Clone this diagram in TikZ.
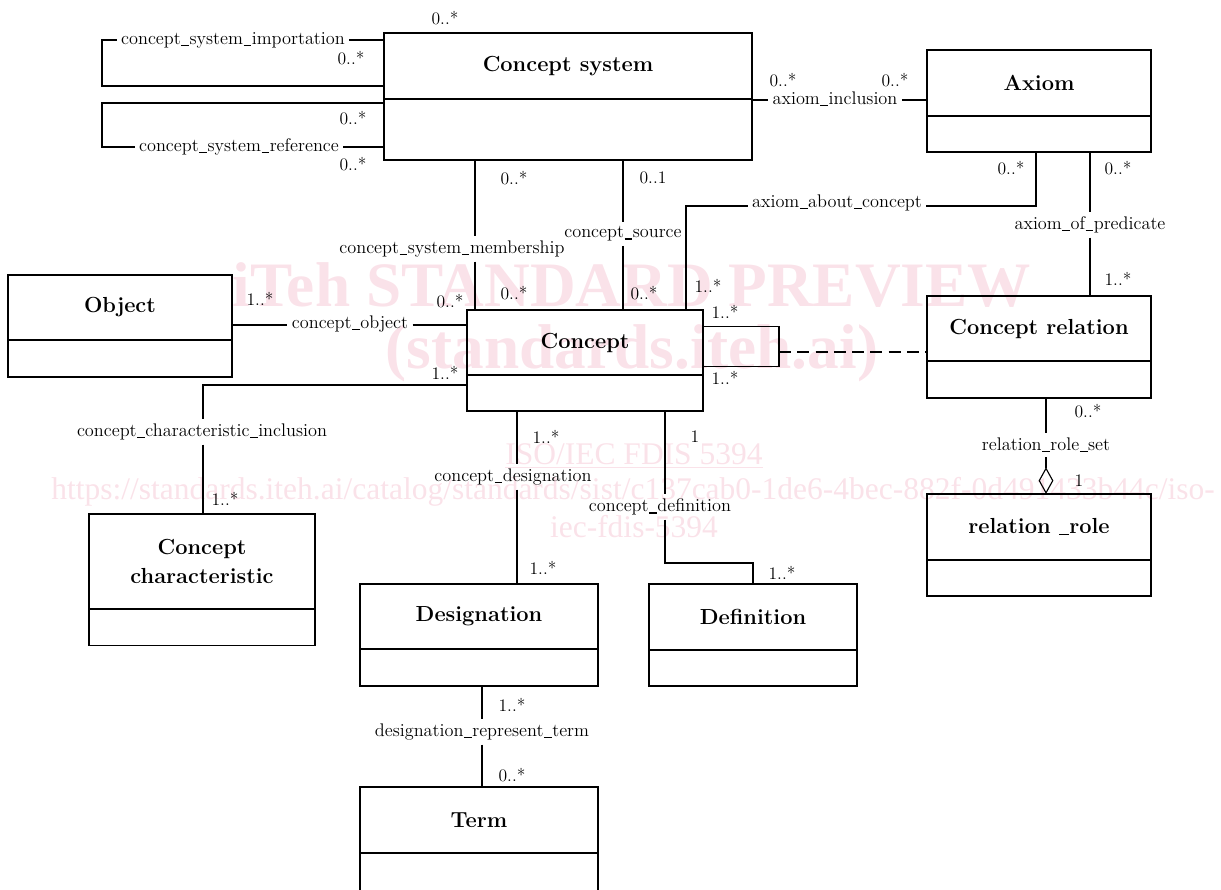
\documentclass[tikz,border=0pt]{standalone}
\usepackage{fontspec}
\usepackage{tikz}
\usetikzlibrary{calc}
\usetikzlibrary{positioning}
\usetikzlibrary{arrows.meta}
\newfontfamily\wmfont{Liberation Serif}
\definecolor{wmpink}{RGB}{250,226,233}
\newcommand{\usc}{\kern0.03em\rule[-1.3pt]{0.42em}{1pt}\kern0.03em}
\tikzstyle{assoc} = [line width=0.8pt]
\tikzstyle{aggr} = [line width=0.8pt, {Diamond[open,length=19pt,width=10.5pt]}-]

\begin{document}
\begin{tikzpicture}[x=0.025cm, y=-0.025cm,
    classnode/.style={rectangle, draw, line width=0.9pt, outer sep=0pt, minimum width=5.6cm, minimum height=1.63cm,
        align=center, font=\fontsize{15.5}{20.6}\selectfont\bfseries},
    attrnode/.style={rectangle, draw, line width=0.9pt, outer sep=0pt, minimum width=5.6cm, minimum height=0.92cm},
    rolename/.style={inner sep=3pt, font=\fontsize{13}{15}\selectfont},
    mult/.style={inner sep=0pt, font=\fontsize{12.5}{14}\selectfont},
    wmark/.style={text=wmpink, inner sep=0pt}
]
    \useasboundingbox (0,0) rectangle (1221,889);
    \clip (0,0) rectangle (1221,889);

    % watermark
    \node[wmark, font=\wmfont\fontsize{45}{50}\selectfont\bfseries] (wmA) at (632,285) {iTeh STANDARD PREVIEW};
    \node[wmark, font=\wmfont\fontsize{45}{50}\selectfont\bfseries] (wmB) at (632,353) {(standards.iteh.ai)};
    \node[wmark, font=\wmfont\fontsize{22.4}{26}\selectfont] (wmC) at (634,456) {\underline{ISO/IEC FDIS 5394}};
    \node[wmark, font=\wmfont\fontsize{22.4}{26}\selectfont] (wmD) at (633,492) {https://standards.iteh.ai/catalog/standards/sist/c137cab0-1de6-4bec-882f-0d491433b44c/iso-};
    \node[wmark, font=\wmfont\fontsize{22.4}{26}\selectfont] (wmE) at (634,527) {iec-fdis-5394};

    % classes
    \node[classnode, minimum width=9.2cm, minimum height=1.65cm] (csys) at (568,66) {Concept system};
    \node[attrnode, minimum width=9.2cm, minimum height=1.525cm, below=0pt of csys] (csysattr) {};
    \node[classnode, minimum height=1.65cm] (axiom) at (1039,83) {Axiom};
    \node[attrnode, minimum height=0.9cm, below=0pt of axiom] (axiomattr) {};
    \node[classnode] (object) at (120,307.5) {Object};
    \node[attrnode, below=0pt of object] (objectattr) {};
    \node[classnode, minimum width=5.9cm] (cpt) at (585,342.5) {Concept};
    \node[attrnode, minimum width=5.9cm, minimum height=0.9cm, below=0pt of cpt] (cptattr) {};
    \node[classnode] (crel) at (1039,328.5) {Concept relation};
    \node[attrnode, below=0pt of crel] (crelattr) {};
    \node[classnode, minimum height=1.65cm] (rrole) at (1039,527) {relation \usc role};
    \node[attrnode, minimum height=0.9cm, below=0pt of rrole] (rroleattr) {};
    \node[classnode, minimum width=5.65cm, minimum height=2.375cm] (cchar) at (202,561.5) {Concept\\characteristic};
    \node[attrnode, minimum width=5.65cm, below=0pt of cchar] (ccharattr) {};
    \node[classnode, minimum width=5.95cm] (desig) at (479,616.5) {Designation};
    \node[attrnode, minimum width=5.95cm, below=0pt of desig] (desigattr) {};
    \node[classnode, minimum width=5.2cm, minimum height=1.65cm] (defin) at (753,617) {Definition};
    \node[attrnode, minimum width=5.2cm, minimum height=0.9cm, below=0pt of defin] (definattr) {};
    \node[classnode, minimum width=5.95cm, minimum height=1.65cm] (term) at (479,820) {Term};
    \node[attrnode, minimum width=5.95cm, minimum height=1.3cm, below=0pt of term] (termattr) {};

    % association names
    \node[rolename] (lImp) at (233,40) {concept\usc system\usc importation};
    \node[rolename] (lRef) at (239,147) {concept\usc system\usc reference};
    \node[rolename] (lAxin) at (835,99) {axiom\usc inclusion};
    \node[rolename] (lAbout) at (837,203) {axiom\usc about\usc concept};
    \node[rolename] (lPred) at (1090,225) {axiom\usc of\usc predicate};
    \node[rolename] (lMemb) at (452,249) {concept\usc system\usc membership};
    \node[rolename] (lSrc) at (623,234) {concept\usc source};
    \node[rolename] (lObj) at (350,324) {concept\usc object};
    \node[rolename] (lCci) at (202,432) {concept\usc characteristic\usc inclusion};
    \node[rolename] (lDes) at (513,477) {concept\usc designation};
    \node[rolename] (lDef) at (660,507) {concept\usc definition};
    \node[rolename] (lRrs) at (1046,445) {relation\usc role\usc set};
    \node[rolename] (lDrt) at (482,732) {designation\usc represent\usc term};

    % tracks of the connectors
    \coordinate (impX) at (102,0);
    \coordinate (impA) at ($(csys.north west)+(0,7)$);
    \coordinate (impB) at ($(csys.west)+(0,20)$);
    \coordinate (refA) at ($(csysattr.north west)+(0,4)$);
    \coordinate (refB) at ($(csysattr.south west)+(0,-13)$);
    \coordinate (memb) at (475,0);
    \coordinate (csrc) at (623,0);
    \coordinate (aboutA) at (1036,0);
    \coordinate (aboutB) at (686,206);
    \coordinate (pred) at (1090,0);
    \coordinate (cobj) at (0,325);
    \coordinate (cci) at (203,385);
    \coordinate (cdes) at (517,0);
    \coordinate (cdefA) at (665,0);
    \coordinate (cdefB) at (753,563);
    \coordinate (drt) at (482,0);
    \coordinate (rrs) at (1046,0);
    \coordinate (axin) at ($(axiom.west)+(0,17)$);
    \coordinate (selfA) at ($(cpt.east)+(0,-16)$);
    \coordinate (selfB) at ($(cpt.east)+(0,24)$);

    % associations
    \draw[assoc] (impA) -- (lImp.east |- impA);
    \draw[assoc] (lImp.west |- impA) -- (impX |- impA) -- (impX |- impB) -- (impB);
    \draw[assoc] (refA) -- (impX |- refA) -- (impX |- refB) -- (lRef.west |- refB);
    \draw[assoc] (lRef.east |- refB) -- (refB);
    \draw[assoc] (csys.east |- axin) -- (lAxin.west |- axin);
    \draw[assoc] (lAxin.east |- axin) -- (axin);
    \draw[assoc] (csysattr.south -| memb) -- (lMemb.north -| memb);
    \draw[assoc] (lMemb.south -| memb) -- (cpt.north -| memb);
    \draw[assoc] (csysattr.south -| csrc) -- (lSrc.north -| csrc);
    \draw[assoc] (lSrc.south -| csrc) -- (cpt.north -| csrc);
    \draw[assoc] (axiomattr.south -| aboutA) |- (lAbout.east |- aboutB);
    \draw[assoc] (lAbout.west |- aboutB) -| (cpt.north -| aboutB);
    \draw[assoc] (axiomattr.south -| pred) -- (lPred.north -| pred);
    \draw[assoc] (lPred.south -| pred) -- (crel.north -| pred);
    \draw[assoc] (object.east |- cobj) -- (lObj.west |- cobj);
    \draw[assoc] (lObj.east |- cobj) -- (cpt.west |- cobj);
    \draw[assoc] (selfA) -- ++(76,0) coordinate (selfR) |- (selfB);
    \coordinate (dashL) at ($(selfR)+(0,25.5)$);
    \draw[assoc, dash pattern=on 8.5pt off 4.5pt] (dashL) -- (crel.west |- dashL);
    \draw[assoc] (cpt.west |- cci) -- (cci) -- (lCci.north -| cci);
    \draw[assoc] (lCci.south -| cci) -- (cchar.north -| cci);
    \draw[assoc] (cptattr.south -| cdes) -- (lDes.north -| cdes);
    \draw[assoc] (lDes.south -| cdes) -- (desig.north -| cdes);
    \draw[assoc] (cptattr.south -| cdefA) -- (lDef.north -| cdefA);
    \draw[assoc] (lDef.south -| cdefA) |- (cdefB) -- (defin.north -| cdefB);
    \draw[assoc] (desigattr.south -| drt) -- (lDrt.north -| drt);
    \draw[assoc] (lDrt.south -| drt) -- (term.north -| drt);
    \draw[assoc] (crelattr.south -| rrs) -- (lRrs.north -| rrs);
    \draw[aggr] (rrole.north -| rrs) -- (lRrs.south -| rrs);

    % multiplicities
    \node[mult] at (445,18) {0..*};
    \node[mult] at (351,58) {0..*};
    \node[mult] at (353,118) {0..*};
    \node[mult] at (353,164) {0..*};
    \node[mult] at (783,80) {0..*};
    \node[mult] at (895,80) {0..*};
    \node[mult] at (514,178) {0..*};
    \node[mult] at (653,178) {0..1};
    \node[mult] at (1011,168) {0..*};
    \node[mult] at (1118,168) {0..*};
    \node[mult] at (1118,279) {1..*};
    \node[mult] at (514,293) {0..*};
    \node[mult] at (644,293) {0..*};
    \node[mult] at (708,286) {1..*};
    \node[mult] at (260,299) {1..*};
    \node[mult] at (450,301) {0..*};
    \node[mult] at (725,312) {1..*};
    \node[mult] at (725,378) {1..*};
    \node[mult] at (445,373) {1..*};
    \node[mult] at (1088,411) {0..*};
    \node[mult] at (546,437) {1..*};
    \node[mult] at (695,437) {1};
    \node[mult] at (1079,481) {1};
    \node[mult] at (225,499) {1..*};
    \node[mult] at (543,568) {1..*};
    \node[mult] at (782,573) {1..*};
    \node[mult] at (512,705) {1..*};
    \node[mult] at (512,775) {0..*};
\end{tikzpicture}
\end{document}
